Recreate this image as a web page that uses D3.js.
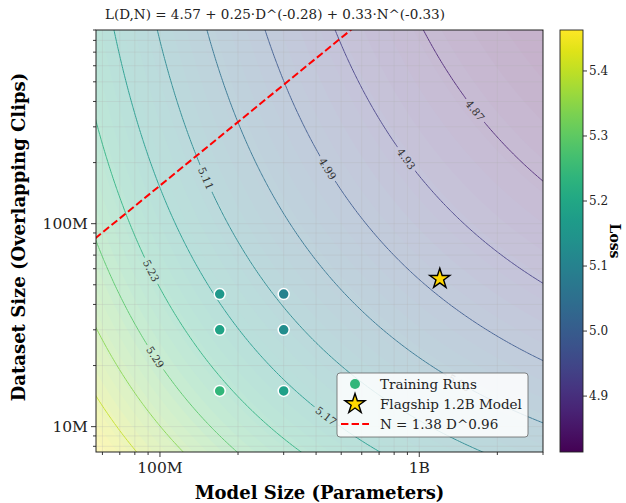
<!DOCTYPE html>
<html>
<head>
<meta charset="utf-8">
<script src="https://cdn.jsdelivr.net/npm/d3@7"></script>
<style>
  body { margin: 0; background: #fff; }
  svg { display: block; }
  text { font-family: "DejaVu Serif", serif; }
</style>
</head>
<body>
<script>
// Fitted scaling law L(D,N) = E + A*(D/D0)^-a + B*(N/N0)^-b
const lossE = 4.575, coefD = 0.25, expD = 0.275, coefN = 0.33, expN = 0.33;
const normD = 3.0e7, normN = 2.27e8;
const rangeN = [5.667e7, 3.0e9];
const rangeD = [7.5e6, 9.0e8];

// contour line levels and the colour range
const lineLevels = [4.814, 4.873, 4.932, 4.991, 5.050, 5.109, 5.168, 5.227, 5.286, 5.345, 5.404, 5.463];
const lossRange = [4.814, 5.463];

// where the inline labels sit (level index, N, D)
const labelLevel = [1, 2, 3, 4, 5, 6, 7, 8];
const labelN = [1.64e9, 8.81e8, 4.41e8, 1.46e9, 1.49e8, 4.33e8, 9.15e7, 9.57e7];
const labelD = [3.62e8, 2.10e8, 1.87e8, 1.69e7, 1.67e8, 1.146e7, 5.88e7, 2.17e7];

// training runs
const runN = [1.7e8, 3.0e8, 1.7e8, 3.0e8, 1.7e8, 3.0e8];
const runD = [4.5e7, 4.5e7, 3.0e7, 3.0e7, 1.5e7, 1.5e7];
const runLoss = [5.16, 5.10, 5.19, 5.13, 5.24, 5.18];

// flagship model
const flagN = 1.2e9, flagD = 5.35e7;

// compute-optimal frontier N = k * D^p
const frontK = 1.38, frontP = 0.96;

const xTicks = [1e8, 1e9], xTickLabels = ['100M', '1B'];
const yTicks = [1e7, 1e8], yTickLabels = ['10M', '100M'];
const cbarTicks = [4.9, 5.0, 5.1, 5.2, 5.3, 5.4];

const W = 626, H = 503;
const plot = { left: 96, right: 543, top: 30, bottom: 452 };

const svg = d3.select('body').append('svg').attr('width', W).attr('height', H);

const x = d3.scaleLog().domain(rangeN).range([plot.left, plot.right]);
const y = d3.scaleLog().domain(rangeD).range([plot.bottom, plot.top]);
const color = d3.scaleSequential(d3.interpolateViridis).domain(lossRange);

function loss(D, N) {
    return lossE + coefD * Math.pow(D / normD, -expD) + coefN * Math.pow(N / normN, -expN);
}

// grid a little wider than the axes, then clip
const nx = 180, ny = 180;
const lx0 = Math.log10(rangeN[0]) - 0.04, lx1 = Math.log10(rangeN[1]) + 0.04;
const ly0 = Math.log10(rangeD[0]) - 0.04, ly1 = Math.log10(rangeD[1]) + 0.04;
const dlx = (lx1 - lx0) / (nx - 1), dly = (ly1 - ly0) / (ny - 1);
const values = new Array(nx * ny);
for (let j = 0; j < ny; j++) {
    for (let i = 0; i < nx; i++) {
        values[j * nx + i] = loss(Math.pow(10, ly0 + j * dly), Math.pow(10, lx0 + i * dlx));
    }
}
const gx = u => x(Math.pow(10, lx0 + (u - 0.5) * dlx));
const gy = v => y(Math.pow(10, ly0 + (v - 0.5) * dly));

const defs = svg.append('defs');
defs.append('clipPath').attr('id', 'plotClip')
    .append('rect')
    .attr('x', plot.left).attr('y', plot.top)
    .attr('width', plot.right - plot.left).attr('height', plot.bottom - plot.top);

const area = svg.append('g').attr('clip-path', 'url(#plotClip)');

// filled background, many thin bands
const nBands = 40;
const bandStep = (lossRange[1] - lossRange[0]) / nBands;
const bandThresh = d3.range(nBands).map(i => lossRange[0] - 0.5 + (i === 0 ? 0 : 0.5 + i * bandStep));
const bands = d3.contours().size([nx, ny]).thresholds(bandThresh)(values);

function ringPath(ring) {
    return 'M' + ring.map(p => gx(p[0]).toFixed(2) + ',' + gy(p[1]).toFixed(2)).join('L') + 'Z';
}

const fillGroup = area.append('g').attr('opacity', 0.3);
fillGroup.selectAll('path')
    .data(bands)
    .join('path')
        .attr('d', d => d.coordinates.map(poly => poly.map(ringPath).join('')).join(''))
        .attr('fill-rule', 'evenodd')
        .attr('fill', (d, i) => color(lossRange[0] + (i + 0.5) * bandStep));

// grid lines, major and minor
const gridGroup = area.append('g')
    .attr('stroke', '#b0b0b0').attr('stroke-opacity', 0.35).attr('stroke-width', 0.7);
const xGridVals = x.ticks(20), yGridVals = y.ticks(20);
gridGroup.selectAll('.gx').data(xGridVals).join('line')
    .attr('x1', d => x(d)).attr('x2', d => x(d))
    .attr('y1', plot.top).attr('y2', plot.bottom);
gridGroup.selectAll('.gy').data(yGridVals).join('line')
    .attr('y1', d => y(d)).attr('y2', d => y(d))
    .attr('x1', plot.left).attr('x2', plot.right);

// contour lines
const lines = d3.contours().size([nx, ny]).thresholds(lineLevels)(values);
const linePts = lines.map(c => c.coordinates.map(poly => poly.map(ring => ring.map(p => [gx(p[0]), gy(p[1])]))).flat());

// labels first, so the gaps can be cut into the lines
const mask = defs.append('mask').attr('id', 'gapMask').attr('maskUnits', 'userSpaceOnUse')
    .attr('x', 0).attr('y', 0).attr('width', W).attr('height', H);
mask.append('rect').attr('width', W).attr('height', H).attr('fill', '#fff');

const labelGroup = svg.append('g');
const labelFont = 10.5;
labelLevel.forEach((lev, k) => {
    const px = x(labelN[k]), py = y(labelD[k]);
    let best = null, bestDist = Infinity;
    linePts[lev].forEach(ring => {
        ring.forEach((p, i) => {
            const dd = (p[0] - px) ** 2 + (p[1] - py) ** 2;
            if (dd < bestDist) { bestDist = dd; best = { ring: ring, i: i }; }
        });
    });
    if (!best) return;
    const r = best.ring, n = r.length;
    const a = r[Math.max(0, best.i - 3)], b = r[Math.min(n - 1, best.i + 3)];
    let ang = Math.atan2(b[1] - a[1], b[0] - a[0]) * 180 / Math.PI;
    if (ang > 90) ang -= 180;
    if (ang <= -90) ang += 180;
    const cx = r[best.i][0], cy = r[best.i][1];
    const t = labelGroup.append('text')
        .attr('transform', `translate(${cx},${cy}) rotate(${ang})`)
        .attr('text-anchor', 'middle')
        .attr('dy', '0.35em')
        .attr('font-size', labelFont)
        .attr('fill', '#333')
        .text(lineLevels[lev].toFixed(2));
    const tw = t.node().getComputedTextLength();
    mask.append('rect')
        .attr('transform', `translate(${cx},${cy}) rotate(${ang})`)
        .attr('x', -tw / 2 - 3).attr('y', -labelFont * 0.6)
        .attr('width', tw + 6).attr('height', labelFont * 1.2)
        .attr('fill', '#000');
});

const lineGroup = area.append('g').attr('mask', 'url(#gapMask)').attr('opacity', 0.85);
const lineGen = d3.line();
lines.forEach((c, li) => {
    lineGroup.selectAll(null)
        .data(linePts[li])
        .join('path')
            .attr('d', ring => lineGen(ring))
            .attr('fill', 'none')
            .attr('stroke', color(lineLevels[li]))
            .attr('stroke-width', 1);
});
labelGroup.raise();

// frontier line
const frontD = [rangeD[0] * 0.5, rangeD[1] * 2];
area.append('path')
    .attr('d', d3.line()(frontD.map(d => [x(frontK * Math.pow(d, frontP)), y(d)])))
    .attr('fill', 'none')
    .attr('stroke', '#ff0000')
    .attr('stroke-width', 2)
    .attr('stroke-dasharray', '7.4,3.2');

// training runs
svg.append('g').selectAll('circle')
    .data(runN.map((n, i) => ({ n: n, d: runD[i], l: runLoss[i] })))
    .join('circle')
        .attr('cx', d => x(d.n))
        .attr('cy', d => y(d.d))
        .attr('r', 5.5)
        .attr('fill', d => color(d.l))
        .attr('stroke', '#fff')
        .attr('stroke-width', 1.5);

// flagship star
const star = d3.symbol(d3.symbolStar, 125);
svg.append('path')
    .attr('d', star())
    .attr('transform', `translate(${x(flagN)},${y(flagD)})`)
    .attr('fill', '#ffd700')
    .attr('stroke', '#000')
    .attr('stroke-width', 1.4);

// frame
svg.append('rect')
    .attr('x', plot.left).attr('y', plot.top)
    .attr('width', plot.right - plot.left).attr('height', plot.bottom - plot.top)
    .attr('fill', 'none').attr('stroke', '#222').attr('stroke-width', 1);

// axes
const xMinor = x.ticks(20).filter(v => !xTicks.includes(v));
const yMinor = y.ticks(20).filter(v => !yTicks.includes(v));
const tickGroup = svg.append('g').attr('stroke', '#222').attr('stroke-width', 0.9);
tickGroup.selectAll('.xt').data(xTicks).join('line')
    .attr('x1', d => x(d)).attr('x2', d => x(d))
    .attr('y1', plot.bottom).attr('y2', plot.bottom + 5);
tickGroup.selectAll('.xm').data(xMinor).join('line')
    .attr('x1', d => x(d)).attr('x2', d => x(d))
    .attr('y1', plot.bottom).attr('y2', plot.bottom + 3);
tickGroup.selectAll('.yt').data(yTicks).join('line')
    .attr('y1', d => y(d)).attr('y2', d => y(d))
    .attr('x1', plot.left).attr('x2', plot.left - 5);
tickGroup.selectAll('.ym').data(yMinor).join('line')
    .attr('y1', d => y(d)).attr('y2', d => y(d))
    .attr('x1', plot.left).attr('x2', plot.left - 3);

svg.append('g').selectAll('text').data(xTicks).join('text')
    .attr('x', d => x(d)).attr('y', plot.bottom + 21)
    .attr('text-anchor', 'middle').attr('font-size', 15.5).attr('fill', '#222')
    .text((d, i) => xTickLabels[i]);
svg.append('g').selectAll('text').data(yTicks).join('text')
    .attr('x', plot.left - 8).attr('y', d => y(d)).attr('dy', '0.36em')
    .attr('text-anchor', 'end').attr('font-size', 15.5).attr('fill', '#222')
    .text((d, i) => yTickLabels[i]);

svg.append('text')
    .attr('x', (plot.left + plot.right) / 2).attr('y', 499)
    .attr('text-anchor', 'middle').attr('font-size', 18).attr('font-weight', 'bold')
    .text('Model Size (Parameters)');
svg.append('text')
    .attr('transform', `translate(25,${(plot.top + plot.bottom) / 2 - 4}) rotate(-90)`)
    .attr('text-anchor', 'middle').attr('font-size', 18).attr('font-weight', 'bold')
    .text('Dataset Size (Overlapping Clips)');

svg.append('text')
    .attr('x', 105).attr('y', 19)
    .attr('font-size', 13.5).attr('fill', '#222')
    .text('L(D,N) = 4.57 + 0.25\u00b7D^(-0.28) + 0.33\u00b7N^(-0.33)');

// colour bar
const cb = { left: 560, width: 23 };
const cbScale = d3.scaleLinear().domain(lossRange).range([plot.bottom, plot.top]);
const grad = defs.append('linearGradient').attr('id', 'cbGrad')
    .attr('x1', 0).attr('y1', 1).attr('x2', 0).attr('y2', 0);
d3.range(0, 1.0001, 0.05).forEach(t => {
    grad.append('stop').attr('offset', t).attr('stop-color', d3.interpolateViridis(t));
});
svg.append('rect')
    .attr('x', cb.left).attr('y', plot.top)
    .attr('width', cb.width).attr('height', plot.bottom - plot.top)
    .attr('fill', 'url(#cbGrad)').attr('stroke', '#222').attr('stroke-width', 0.9);
const cbAxis = svg.append('g');
cbAxis.selectAll('line').data(cbarTicks).join('line')
    .attr('x1', cb.left + cb.width).attr('x2', cb.left + cb.width + 4)
    .attr('y1', d => cbScale(d)).attr('y2', d => cbScale(d))
    .attr('stroke', '#222').attr('stroke-width', 0.9);
cbAxis.selectAll('text').data(cbarTicks).join('text')
    .attr('x', cb.left + cb.width + 6).attr('y', d => cbScale(d)).attr('dy', '0.36em')
    .attr('font-size', 12).attr('fill', '#222')
    .text(d => d.toFixed(1));
svg.append('text')
    .attr('transform', `translate(610,${(plot.top + plot.bottom) / 2}) rotate(90)`)
    .attr('text-anchor', 'middle').attr('font-size', 14).attr('font-weight', 'bold')
    .text('Loss');

// legend
const lg = svg.append('g').attr('transform', 'translate(337,373)');
lg.append('rect')
    .attr('width', 191).attr('height', 64).attr('rx', 3)
    .attr('fill', '#fff').attr('fill-opacity', 0.85)
    .attr('stroke', '#666').attr('stroke-width', 0.8);
lg.append('circle').attr('cx', 18).attr('cy', 11).attr('r', 5)
    .attr('fill', color(runLoss[4]));
lg.append('path').attr('d', star()).attr('transform', 'translate(18,31)')
    .attr('fill', '#ffd700').attr('stroke', '#000').attr('stroke-width', 1.4);
lg.append('line').attr('x1', 4).attr('x2', 32).attr('y1', 51).attr('y2', 51)
    .attr('stroke', '#ff0000').attr('stroke-width', 2).attr('stroke-dasharray', '7.4,3.2');
const legendText = ['Training Runs', 'Flagship 1.2B Model', 'N = 1.38 D^0.96'];
lg.selectAll('.lt').data(legendText).join('text')
    .attr('x', 43).attr('y', (d, i) => 11 + i * 20).attr('dy', '0.35em')
    .attr('font-size', 13.5).attr('fill', '#222')
    .text(d => d);
</script>
</body>
</html>
